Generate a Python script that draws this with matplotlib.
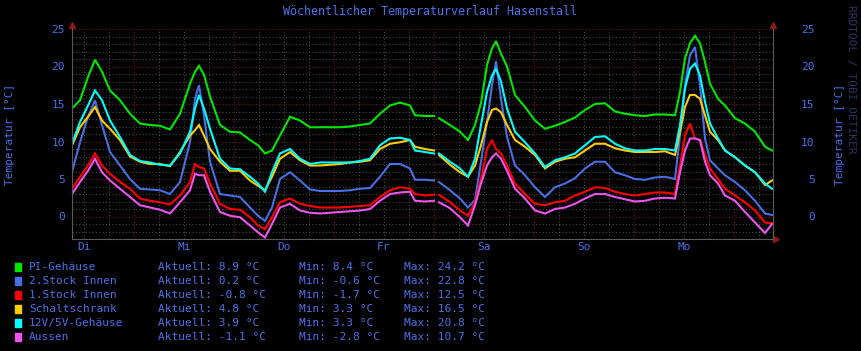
import numpy as np
import matplotlib
matplotlib.use('Agg')
import matplotlib.pyplot as plt
from matplotlib.patches import Rectangle

# Zeit in Tagen ab linkem Rand des Diagramms
days = [0.00, 0.08, 0.16, 0.23, 0.30, 0.38, 0.48, 0.58, 0.68, 0.78, 0.88, 0.98,
        1.08, 1.18, 1.23, 1.27, 1.32, 1.38, 1.48, 1.58, 1.68, 1.78, 1.86, 1.93,
        2.00, 2.08, 2.18, 2.28, 2.38, 2.48, 2.58, 2.68, 2.78, 2.88, 2.98, 3.08,
        3.18, 3.28, 3.38, 3.43, 3.53, 3.62, 3.64, 3.67, 3.78, 3.88, 3.96, 4.03,
        4.09, 4.15, 4.20, 4.24, 4.29, 4.35, 4.43, 4.53, 4.63, 4.73, 4.83, 4.93,
        5.03, 5.13, 5.23, 5.33, 5.43, 5.53, 5.63, 5.73, 5.83, 5.93, 6.03, 6.08,
        6.13, 6.18, 6.23, 6.28, 6.33, 6.38, 6.46, 6.53, 6.63, 6.73, 6.83, 6.93,
        7.00]

nan = np.nan
pi_gehaeuse = [14.4, 15.5, 18.6, 20.9, 19.3, 16.8, 15.5, 13.7, 12.4, 12.2, 12.1, 11.6,
               13.7, 17.7, 19.3, 20.1, 18.9, 16.0, 12.2, 11.3, 11.2, 10.2, 9.5, 8.4,
               8.8, 10.8, 13.3, 12.8, 11.9, 11.9, 11.9, 11.9, 12.0, 12.2, 12.4, 13.7,
               14.8, 15.2, 14.8, 13.5, 13.4, 13.4, nan, 13.1, 12.2, 11.3, 10.2, 12.2,
               15.1, 20.2, 22.4, 23.4, 21.7, 20.0, 16.2, 14.6, 12.8, 11.7, 12.1, 12.6,
               13.2, 14.2, 15.0, 15.1, 14.0, 13.7, 13.5, 13.4, 13.6, 13.6, 13.5, 16.6,
               21.1, 23.1, 24.1, 23.1, 20.6, 17.7, 15.7, 14.8, 13.1, 12.4, 11.3, 9.3,
               8.8]
stock2 = [5.9, 9.9, 13.3, 15.5, 12.2, 8.6, 6.8, 5.0, 3.7, 3.6, 3.5, 3.0,
          4.6, 9.9, 15.7, 17.5, 13.5, 7.3, 3.0, 2.8, 2.6, 1.2, 0.1, -0.6,
          1.2, 5.0, 5.9, 4.8, 3.6, 3.4, 3.4, 3.4, 3.5, 3.7, 3.8, 5.3,
          7.0, 7.0, 6.4, 4.9, 4.9, 4.8, nan, 4.6, 3.5, 2.4, 1.2, 2.2,
          7.3, 12.6, 17.5, 20.7, 15.7, 10.6, 6.8, 5.5, 3.9, 2.6, 3.9, 4.4,
          5.1, 6.4, 7.3, 7.3, 5.9, 5.5, 5.0, 4.9, 5.2, 5.3, 5.0, 10.8,
          17.5, 21.5, 22.6, 17.5, 10.4, 7.5, 6.4, 5.5, 4.6, 3.5, 2.1, 0.4,
          0.2]
stock1 = [3.7, 5.3, 6.8, 8.4, 6.8, 5.7, 4.6, 3.7, 2.4, 2.1, 1.9, 1.6,
          2.8, 4.6, 7.0, 6.6, 6.4, 4.4, 1.7, 1.0, 0.9, -0.1, -1.2, -1.7,
          -0.1, 1.9, 2.4, 1.7, 1.4, 1.2, 1.2, 1.2, 1.3, 1.4, 1.5, 2.6,
          3.5, 3.9, 3.7, 3.0, 2.8, 2.9, nan, 2.9, 1.9, 0.8, 0.1, 1.9,
          5.0, 9.0, 10.2, 9.0, 8.4, 6.8, 4.4, 3.0, 1.7, 1.5, 1.9, 2.1,
          2.8, 3.3, 3.9, 3.8, 3.3, 3.0, 2.8, 3.0, 3.2, 3.2, 3.0, 6.8,
          10.8, 12.4, 10.4, 10.2, 8.2, 6.4, 5.0, 3.7, 2.8, 1.9, 0.8, -0.8,
          -0.9]
schaltschrank = [9.5, 11.9, 13.3, 14.6, 12.8, 11.7, 10.2, 8.0, 7.3, 7.0, 7.0, 6.7,
                 8.6, 10.8, 11.5, 12.2, 10.8, 9.0, 7.3, 6.1, 6.1, 4.8, 4.1, 3.5,
                 5.3, 7.7, 8.6, 7.5, 6.8, 6.8, 6.9, 7.0, 7.2, 7.3, 7.5, 9.0,
                 9.7, 9.9, 10.2, 9.3, 9.0, 8.8, nan, 8.2, 6.9, 5.9, 5.3, 6.8,
                 9.5, 12.6, 14.2, 14.4, 13.9, 12.2, 10.2, 9.3, 8.2, 6.4, 7.3, 7.7,
                 7.9, 8.8, 9.7, 9.7, 9.1, 8.8, 8.6, 8.6, 8.6, 8.7, 8.2, 11.3,
                 14.6, 16.2, 16.2, 15.7, 13.5, 11.3, 10.2, 8.8, 7.9, 6.8, 5.9, 4.2,
                 4.8]
netzteil = [9.7, 12.6, 14.8, 16.8, 15.5, 12.8, 10.6, 8.2, 7.4, 7.2, 6.9, 6.8,
            8.4, 11.3, 14.4, 16.2, 14.4, 11.7, 7.7, 6.4, 6.3, 5.3, 4.4, 3.3,
            5.9, 8.4, 9.0, 7.7, 7.0, 7.2, 7.2, 7.2, 7.2, 7.4, 7.7, 9.5,
            10.4, 10.5, 10.2, 8.8, 8.6, 8.4, nan, 8.4, 7.3, 6.4, 5.3, 7.7,
            12.2, 16.6, 18.8, 19.7, 18.0, 14.4, 11.3, 9.9, 8.4, 6.6, 7.5, 7.9,
            8.4, 9.5, 10.6, 10.7, 9.7, 9.1, 8.8, 8.8, 9.0, 9.0, 8.8, 12.2,
            17.1, 19.7, 20.4, 18.8, 15.3, 12.4, 10.4, 8.8, 7.9, 6.8, 5.9, 4.4,
            3.7]
aussen = [3.0, 4.6, 6.1, 7.7, 5.9, 4.8, 3.7, 2.6, 1.5, 1.2, 0.9, 0.4,
          1.9, 3.5, 5.7, 5.5, 5.5, 3.3, 0.6, 0.1, -0.1, -1.2, -2.1, -2.8,
          -1.0, 1.2, 1.7, 0.8, 0.5, 0.4, 0.5, 0.6, 0.7, 0.8, 1.0, 2.1,
          3.0, 3.2, 3.3, 2.1, 2.0, 2.1, nan, 1.9, 1.1, -0.1, -1.2, 1.5,
          4.4, 6.8, 7.9, 8.4, 7.7, 6.1, 3.7, 2.4, 0.8, 0.4, 1.0, 1.2,
          1.7, 2.4, 3.0, 3.0, 2.6, 2.3, 2.0, 2.1, 2.4, 2.5, 2.4, 5.9,
          8.8, 10.4, 10.4, 10.2, 7.3, 5.5, 4.4, 2.8, 2.1, 0.6, -0.8, -2.2,
          -1.0]

day_labels = ['Di', 'Mi', 'Do', 'Fr', 'Sa', 'So', 'Mo']
names = ['PI-Gehäuse', '2.Stock Innen', '1.Stock Innen', 'Schaltschrank',
         '12V/5V-Gehäuse', 'Aussen']
aktuell = [8.9, 0.2, -0.8, 4.8, 3.9, -1.1]
minimum = [8.4, -0.6, -1.7, 3.3, 3.3, -2.8]
maximum = [24.2, 22.8, 12.5, 16.5, 20.8, 10.7]
colors = ['#00e800', '#4670e4', '#ff0000', '#ffcc00', '#00ffff', '#ee55ee']
series = [pi_gehaeuse, stock2, stock1, schaltschrank, netzteil, aussen]

font_color = '#4a72ea'
mono = 'DejaVu Sans Mono'
plt.rcParams['font.family'] = mono

W, H = 861, 351
fig = plt.figure(figsize=(W / 100, H / 100), dpi=100, facecolor='black')


def fx(px):
    return px / W


def fy(py):
    return 1 - py / H


ax = fig.add_axes([fx(72), fy(239), (773 - 72) / W, (239 - 29) / H])
ax.set_facecolor('black')
ax.set_xlim(0, 7.01)
ax.set_ylim(-3, 25)

# Gitter wie bei rrdtool: grau gepunktet fein, dunkelrot grob
minor_c = '#4a4a4a'
major_c = '#7a1c1c'
dot = (0, (1, 2))
for v in range(-2, 26):
    ax.axhline(v, color=major_c if v % 5 == 0 else minor_c, lw=0.8, ls=dot, zorder=0)
for k in range(29):
    t = 0.12 + 0.25 * k
    if t > 7.0:
        break
    c = major_c if k % 4 == 2 else minor_c
    ax.axvline(t, color=c, lw=0.8, ls=dot, zorder=0)

for s, c in zip(series, colors):
    ax.plot(days, s, color=c, lw=1.5, solid_joinstyle='miter')

ax.spines['top'].set_visible(False)
for sp in ['left', 'right', 'bottom']:
    ax.spines[sp].set_color('#5a5a5a')
    ax.spines[sp].set_linewidth(0.8)

ax.set_yticks(range(0, 26, 5))
ax.set_xticks([0.12 + k for k in range(7)])
ax.set_xticklabels(day_labels)
ax.tick_params(colors=font_color, length=0, labelsize=8)
ax.tick_params(axis='y', pad=5)
ax.tick_params(axis='x', pad=2)

ax2 = ax.twinx()
ax2.set_ylim(-3, 25)
ax2.set_yticks(range(0, 26, 5))
ax2.tick_params(colors=font_color, length=0, labelsize=8, pad=30)
for lab in ax2.get_yticklabels():
    lab.set_ha('right')
for sp in ax2.spines.values():
    sp.set_visible(False)

# Pfeile an den Achsen
arrow_c = '#8b1a1a'
ax.plot([0, 1], [1.02, 1.02], ls='none', marker='^', ms=4, color=arrow_c,
        transform=ax.transAxes, clip_on=False)
ax.plot([1.004], [0], ls='none', marker='>', ms=4, color=arrow_c,
        transform=ax.transAxes, clip_on=False)

fig.text(fx(430), fy(12), 'Wöchentlicher Temperaturverlauf Hasenstall',
         color=font_color, fontsize=8.4, ha='center', va='center')
fig.text(fx(10), fy(134), 'Temperatur [°C]', color=font_color, fontsize=8,
         rotation=90, ha='center', va='center')
fig.text(fx(840), fy(134), 'Temperatur [°C]', color=font_color, fontsize=8,
         rotation=90, ha='center', va='center')
fig.text(fx(851), fy(5), 'RRDTOOL / TOBI OETIKER', color='#2a3562', fontsize=8,
         rotation=270, ha='center', va='top')

# Legende
for i, name in enumerate(names):
    y = 267 + 14 * i
    fig.patches.append(Rectangle((fx(15), fy(y + 4)), 6 / W, 8 / H,
                                 transform=fig.transFigure, color=colors[i]))
    fig.text(fx(29), fy(y), name, color=font_color, fontsize=8, va='center')
    fig.text(fx(158), fy(y), f'Aktuell: {aktuell[i]:.1f} °C', color=font_color,
             fontsize=8, va='center')
    fig.text(fx(299), fy(y), f'Min: {minimum[i]:.1f} °C', color=font_color,
             fontsize=8, va='center')
    fig.text(fx(404), fy(y), f'Max: {maximum[i]:.1f} °C', color=font_color,
             fontsize=8, va='center')

fig.savefig('out.png', dpi=100, facecolor='black')
